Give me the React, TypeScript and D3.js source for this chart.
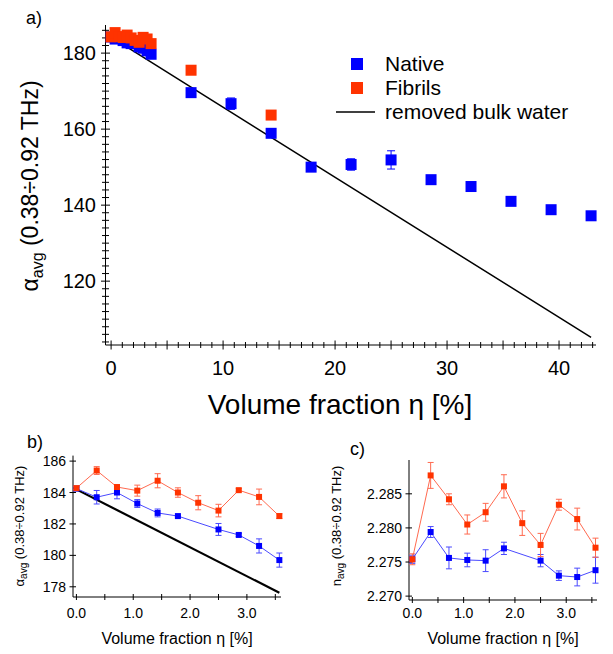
import React from "react";
import * as d3 from "d3";

// volume fraction eta [%] for the dilute series
const etaFine = [0, 0.357, 0.714, 1.071, 1.429, 1.786, 2.143, 2.5, 2.857, 3.214, 3.571];
const etaNativeFine = [0, 0.357, 0.714, 1.071, 1.429, 1.786, 2.5, 2.857, 3.214, 3.571];
// concentrated native series
const etaWide = [7.14, 10.71, 14.29, 17.86, 21.43, 25, 28.57, 32.14, 35.71, 39.29, 42.86];
const etaFibrilsWide = [7.14, 14.29];

// absorption alpha_avg
const alphaNativeFine = [184.25, 183.7, 184.0, 183.3, 182.7, 182.5, 181.65, 181.3, 180.6, 179.7];
const alphaNativeFineErr = [0.1, 0.43, 0.4, 0.25, 0.25, 0.05, 0.38, 0.1, 0.45, 0.45];
const alphaFibrilsFine = [184.28, 185.4, 184.35, 184.12, 184.75, 184.0, 183.35, 182.85, 184.15, 183.72, 182.5];
const alphaFibrilsFineErr = [0.1, 0.25, 0.1, 0.35, 0.45, 0.3, 0.45, 0.4, 0.1, 0.5, 0.15];
const alphaNativeWide = [169.6, 166.7, 158.9, 150.0, 150.7, 151.9, 146.7, 144.9, 141.0, 138.8, 137.2];
const alphaNativeWideErr = [0.8, 1.5, 0.8, 0.6, 1.5, 2.4, 0.5, 1.0, 0.7, 0.5, 0.5];
const alphaFibrilsWide = [175.5, 163.7];

// removed bulk water line
const bulkEta = [0, 3.571, 42.86];
const bulkAlpha = [184.2, 177.62, 105.2];

// refractive index n_avg
const nNativeFine = [2.2754, 2.2794, 2.2756, 2.2753, 2.2752, 2.277, 2.2752, 2.273, 2.2728, 2.2738];
const nNativeFineErr = [0.0006, 0.0008, 0.0016, 0.001, 0.0016, 0.0009, 0.0009, 0.0007, 0.0013, 0.0019];
const nFibrilsFine = [2.2754, 2.2877, 2.2842, 2.2805, 2.2823, 2.2861, 2.2807, 2.2775, 2.2834, 2.2813, 2.2771];
const nFibrilsFineErr = [0.0008, 0.0019, 0.0008, 0.0014, 0.0013, 0.0017, 0.0018, 0.0017, 0.0008, 0.0016, 0.0014];

const legendLabels = ["Native", "Fibrils", "removed bulk water"];
const xTicksA = [0, 10, 20, 30, 40];
const yTicksA = [120, 140, 160, 180];
const xTicksSmall = [0, 1, 2, 3];
const yTicksB = [178, 180, 182, 184, 186];
const yTicksC = [2.27, 2.275, 2.28, 2.285];

const FONT = "Arial, 'Liberation Sans', sans-serif";
const BLUE = "#0000ff";
const RED = "#ff3300";
const BLUE_L = "#4a4aff";
const RED_L = "#ff6a50";

type Pt = { x: number; y: number; e?: number };
const zip = (xs: number[], ys: number[], es?: number[]): Pt[] =>
  xs.map((x, i) => ({ x, y: ys[i], e: es ? es[i] : undefined }));

function Markers({ pts, x, y, size, color, errColor, cap }: any) {
  return (
    <g>
      {pts.map((d: Pt, i: number) =>
        d.e ? (
          <g key={"e" + i} stroke={errColor} strokeWidth={1}>
            <line x1={x(d.x)} x2={x(d.x)} y1={y(d.y - d.e)} y2={y(d.y + d.e)} />
            <line x1={x(d.x) - cap} x2={x(d.x) + cap} y1={y(d.y - d.e)} y2={y(d.y - d.e)} />
            <line x1={x(d.x) - cap} x2={x(d.x) + cap} y1={y(d.y + d.e)} y2={y(d.y + d.e)} />
          </g>
        ) : null
      )}
      {pts.map((d: Pt, i: number) => (
        <rect key={i} x={x(d.x) - size / 2} y={y(d.y) - size / 2} width={size} height={size} fill={color} />
      ))}
    </g>
  );
}

function PanelA() {
  const x = d3.scaleLinear().domain([-0.5, 43.3]).range([105.5, 596]);
  const y = d3.scaleLinear().domain([103.2, 187.4]).range([345, 25]);
  const line = d3.line<Pt>().x((d) => x(d.x)).y((d) => y(d.y));
  const minorX = d3.range(0, 44, 1);
  const minorY = d3.range(104, 188, 2);
  const nativeA = zip(etaNativeFine, alphaNativeFine).concat(zip(etaWide, alphaNativeWide, alphaNativeWideErr));
  const fibA = zip(etaFine, alphaFibrilsFine).concat(zip(etaFibrilsWide, alphaFibrilsWide));
  return (
    <g fontFamily={FONT} fill="#000">
      <text x={26} y={24} fontSize={18}>a)</text>
      {/* axes */}
      <line x1={x.range()[0]} x2={x.range()[1]} y1={y.range()[0]} y2={y.range()[0]} stroke="#000" />
      <line x1={x.range()[0]} x2={x.range()[0]} y1={y.range()[0]} y2={y.range()[1]} stroke="#000" />
      {minorX.map((t) => {
        const h = t % 5 === 0 ? 4.5 : 3;
        return <line key={"mx" + t} x1={x(t)} x2={x(t)} y1={y.range()[0] - h} y2={y.range()[0] + h} stroke="#000" />;
      })}
      {minorY.map((t) => {
        const h = t % 20 === 0 ? 4.5 : 3.5;
        return <line key={"my" + t} x1={x.range()[0] - h} x2={x.range()[0] + h} y1={y(t)} y2={y(t)} stroke="#000" />;
      })}
      {xTicksA.map((t) => (
        <text key={"xl" + t} x={x(t)} y={375} fontSize={20} textAnchor="middle">{t}</text>
      ))}
      {yTicksA.map((t) => (
        <text key={"yl" + t} x={96} y={y(t) + 7} fontSize={20} textAnchor="end">{t}</text>
      ))}
      <text x={340} y={414} fontSize={28} textAnchor="middle">Volume fraction η [%]</text>
      <text transform="translate(38,186) rotate(-90)" fontSize={23} textAnchor="middle">
        α<tspan fontSize={16} dy={5}>avg</tspan><tspan dy={-5}> (0.38÷0.92 THz)</tspan>
      </text>
      <path d={line(zip(bulkEta, bulkAlpha)) || ""} fill="none" stroke="#000" strokeWidth={1.5} />
      <Markers pts={nativeA} x={x} y={y} size={11} color={BLUE} errColor={BLUE} cap={4} />
      <Markers pts={fibA} x={x} y={y} size={11} color={RED} errColor={RED} cap={4} />
      {/* legend */}
      <rect x={351} y={58} width={12} height={12} fill={BLUE} />
      <rect x={351} y={82} width={12} height={12} fill={RED} />
      <line x1={336} x2={375} y1={112} y2={112} stroke="#000" strokeWidth={1.5} />
      {legendLabels.map((l, i) => (
        <text key={l} x={385} y={71 + i * 24} fontSize={21}>{l}</text>
      ))}
    </g>
  );
}

function SmallPanel({ label, lx, ly, x, y, yTicks, fmt, ylabel, children }: any) {
  const [x0, x1] = x.range();
  const [yb, yt] = y.range();
  const xt = d3.range(0, 3.6, 0.5);
  return (
    <g fontFamily={FONT} fill="#000">
      <text x={lx} y={ly} fontSize={18}>{label}</text>
      <line x1={x0} x2={x1} y1={yb} y2={yb} stroke="#000" />
      <line x1={x0} x2={x0} y1={yb} y2={yt} stroke="#000" />
      {xt.map((t: number) => (
        <line key={"xt" + t} x1={x(t)} x2={x(t)} y1={yb - 3} y2={yb + 3} stroke="#000" />
      ))}
      {yTicks.map((t: number) => (
        <line key={"yt" + t} x1={x0 - 3.5} x2={x0 + 3} y1={y(t)} y2={y(t)} stroke="#000" />
      ))}
      {xTicksSmall.map((t: number) => (
        <text key={"xl" + t} x={x(t)} y={618} fontSize={14} textAnchor="middle">{t.toFixed(1)}</text>
      ))}
      {yTicks.map((t: number) => (
        <text key={"yl" + t} x={x0 - 7} y={y(t) + 5} fontSize={14} textAnchor="end">{fmt(t)}</text>
      ))}
      <text x={(x0 + x1) / 2} y={644} fontSize={16} textAnchor="middle">Volume fraction η [%]</text>
      {ylabel}
      {children}
    </g>
  );
}

function PanelB() {
  const x = d3.scaleLinear().domain([-0.06, 3.6]).range([73, 281]);
  const y = d3.scaleLinear().domain([177.35, 186.35]).range([597, 455.6]);
  const line = d3.line<Pt>().x((d) => x(d.x)).y((d) => y(d.y));
  const nat = zip(etaNativeFine, alphaNativeFine, alphaNativeFineErr);
  const fib = zip(etaFine, alphaFibrilsFine, alphaFibrilsFineErr);
  const ylabel = (
    <text transform="translate(24,526) rotate(-90)" fontSize={13} textAnchor="middle">
      α<tspan fontSize={10} dy={3}>avg</tspan><tspan dy={-3}> (0.38÷0.92 THz)</tspan>
    </text>
  );
  return (
    <SmallPanel label="b)" lx={27} ly={448} x={x} y={y} yTicks={yTicksB} fmt={(t: number) => String(t)} ylabel={ylabel}>
      <path d={line(zip(bulkEta.slice(0, 2), bulkAlpha.slice(0, 2))) || ""} fill="none" stroke="#000" strokeWidth={2.2} />
      <path d={line(nat) || ""} fill="none" stroke={BLUE_L} strokeWidth={1} />
      <path d={line(fib) || ""} fill="none" stroke={RED_L} strokeWidth={1} />
      <Markers pts={nat} x={x} y={y} size={6} color={BLUE} errColor={BLUE_L} cap={3} />
      <Markers pts={fib} x={x} y={y} size={6} color={RED} errColor={RED_L} cap={3} />
    </SmallPanel>
  );
}

function PanelC() {
  const x = d3.scaleLinear().domain([-0.065, 3.6]).range([409, 597]);
  const y = d3.scaleLinear().domain([2.26943, 2.28996]).range([600, 460]);
  const line = d3.line<Pt>().x((d) => x(d.x)).y((d) => y(d.y));
  const nat = zip(etaNativeFine, nNativeFine, nNativeFineErr);
  const fib = zip(etaFine, nFibrilsFine, nFibrilsFineErr);
  const ylabel = (
    <text transform="translate(341,526) rotate(-90)" fontSize={13} textAnchor="middle">
      n<tspan fontSize={10} dy={3}>avg</tspan><tspan dy={-3}> (0.38÷0.92 THz)</tspan>
    </text>
  );
  return (
    <SmallPanel label="c)" lx={350} ly={455} x={x} y={y} yTicks={yTicksC} fmt={d3.format(".3f")} ylabel={ylabel}>
      <path d={line(nat) || ""} fill="none" stroke={BLUE_L} strokeWidth={1} />
      <path d={line(fib) || ""} fill="none" stroke={RED_L} strokeWidth={1} />
      <Markers pts={nat} x={x} y={y} size={6} color={BLUE} errColor={BLUE_L} cap={3} />
      <Markers pts={fib} x={x} y={y} size={6} color={RED} errColor={RED_L} cap={3} />
    </SmallPanel>
  );
}

export default function App() {
  return (
    <svg width={613} height={654} style={{ position: "absolute", left: 0, top: 0, background: "#fff" }}>
      <rect width={613} height={654} fill="#fff" />
      <PanelA />
      <PanelB />
      <PanelC />
    </svg>
  );
}
